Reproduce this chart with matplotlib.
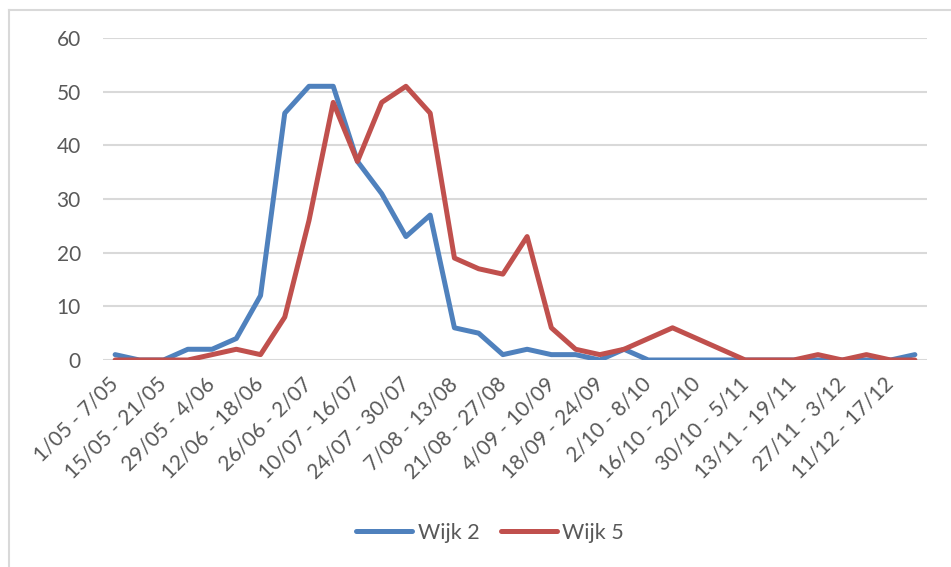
import matplotlib.pyplot as plt
from matplotlib.lines import Line2D

plt.rcParams['font.family'] = ['Lato', 'DejaVu Sans']

# weekly periods, one label every second week
weeks = ['1/05 - 7/05', '8/05 - 14/05', '15/05 - 21/05', '22/05 - 28/05',
         '29/05 - 4/06', '5/06 - 11/06', '12/06 - 18/06', '19/06 - 25/06',
         '26/06 - 2/07', '3/07 - 9/07', '10/07 - 16/07', '17/07 - 23/07',
         '24/07 - 30/07', '31/07 - 6/08', '7/08 - 13/08', '14/08 - 20/08',
         '21/08 - 27/08', '28/08 - 3/09', '4/09 - 10/09', '11/09 - 17/09',
         '18/09 - 24/09', '25/09 - 1/10', '2/10 - 8/10', '9/10 - 15/10',
         '16/10 - 22/10', '23/10 - 29/10', '30/10 - 5/11', '6/11 - 12/11',
         '13/11 - 19/11', '20/11 - 26/11', '27/11 - 3/12', '4/12 - 10/12',
         '11/12 - 17/12', '18/12 - 24/12']

wijk2 = [1, 0, 0, 2, 2, 4, 12, 46, 51, 51, 37, 31, 23, 27, 6, 5, 1, 2, 1, 1,
         0, 2, 0, 0, 0, 0, 0, 0, 0, 0, 0, 0, 0, 1]
wijk5 = [0, 0, 0, 0, 1, 2, 1, 8, 26, 48, 37, 48, 51, 46, 19, 17, 16, 23, 6, 2,
         1, 2, 4, 6, 4, 2, 0, 0, 0, 1, 0, 1, 0, 0]

txt = '#595959'
x = list(range(len(weeks)))

fig = plt.figure(figsize=(9.51, 5.67), dpi=100)
ax = fig.add_axes([103/951, 1 - 360/567, 824/951, 322/567])

ax.plot(x, wijk2, color='#4F81BD', lw=3.6, solid_capstyle='round',
        solid_joinstyle='round', label='Wijk 2')
ax.plot(x, wijk5, color='#C0504D', lw=3.6, solid_capstyle='round',
        solid_joinstyle='round', label='Wijk 5')

ax.set_xlim(-0.5, len(weeks) - 0.5)
ax.set_ylim(0, 60)
ax.set_yticks(range(0, 61, 10))
ax.yaxis.grid(True, color='#D9D9D9', lw=1.5)
ax.set_axisbelow(True)
for s in ax.spines.values():
    s.set_visible(False)
ax.tick_params(axis='both', length=0, colors=txt, labelsize=15)
ax.tick_params(axis='y', pad=16)

ax.set_xticks(x[::2])
ax.set_xticklabels(weeks[::2], rotation=45, ha='right', va='center',
                   rotation_mode='anchor', fontsize=15)
ax.tick_params(axis='x', pad=15)

ax.legend(loc='center', bbox_to_anchor=(490/951, (567 - 533) / 567),
          bbox_transform=fig.transFigure, ncol=2, frameon=False,
          fontsize=15.5, handlelength=2.6, handletextpad=0.25,
          columnspacing=1.0, labelcolor=txt)

# chart area border (top and left edges)
fig.add_artist(Line2D([9/951, 9/951], [0, 1 - 10/567], color='#D9D9D9', lw=1.5))
fig.add_artist(Line2D([9/951, 1], [1 - 10/567, 1 - 10/567], color='#D9D9D9', lw=1.5))

fig.savefig('out.png', dpi=100)
